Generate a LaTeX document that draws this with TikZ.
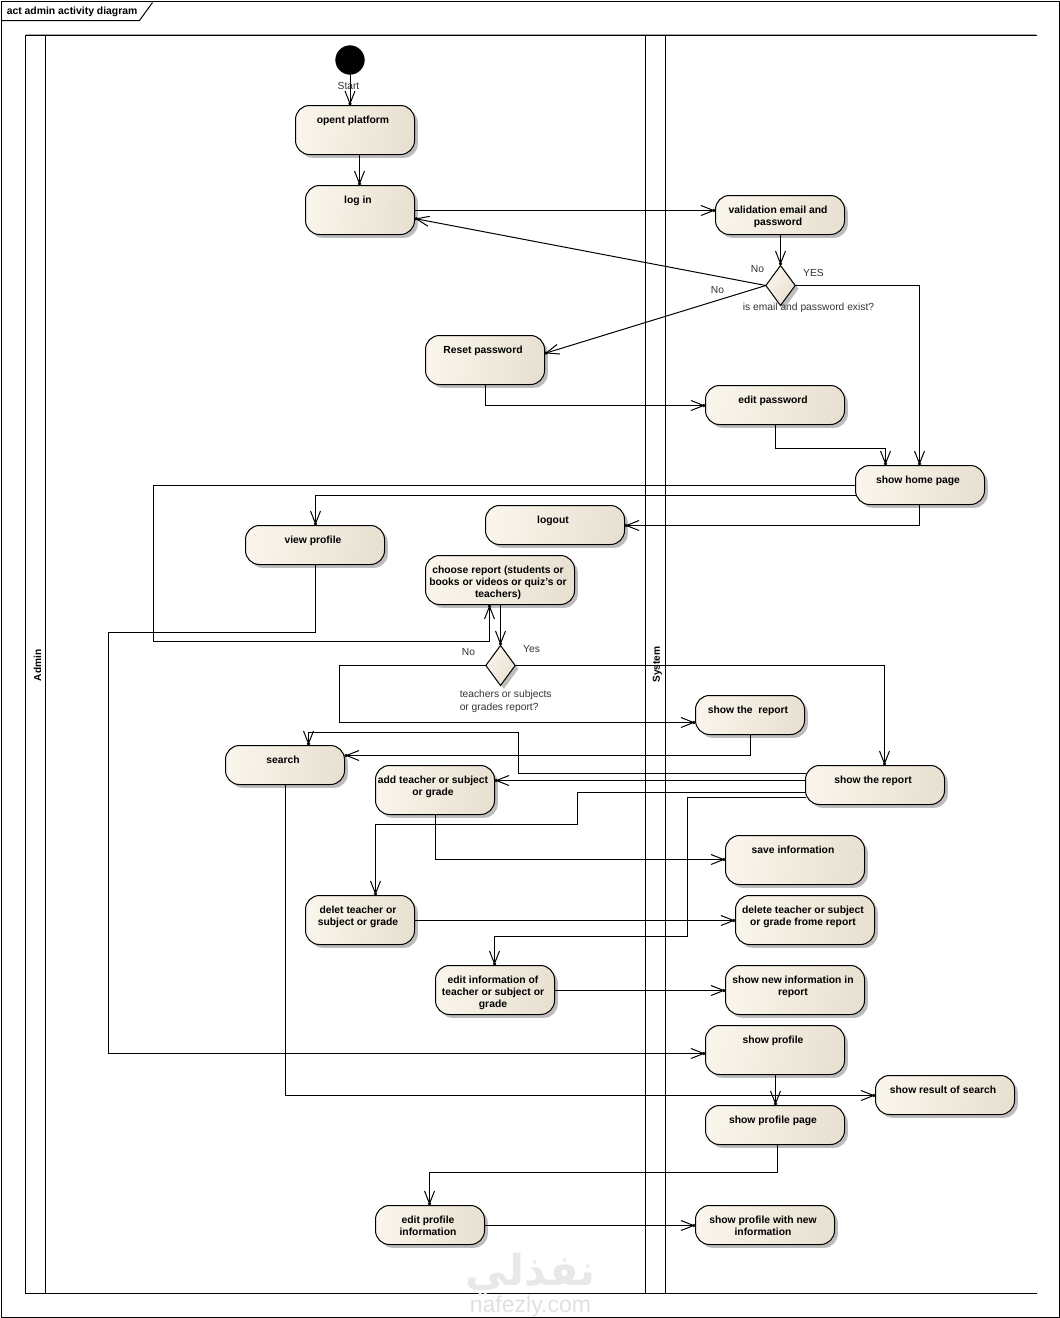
\documentclass[tikz,border=0pt]{standalone}
\usepackage{fontspec}
\setmainfont{Liberation Sans}
\newfontfamily\arabicfont[Script=Arabic]{DejaVu Sans}
\TeXXeTstate=1
\usetikzlibrary{arrows.meta,shapes.geometric,shadows}
\definecolor{boxL}{HTML}{FAF5EB}
\definecolor{boxR}{HTML}{E8E1D2}
\definecolor{shad}{HTML}{BDBDBD}
\tikzset{
  x=0.75pt,y=-0.75pt,
  conn/.style={draw=black,line width=0.75pt,-{Straight Barb[length=9.5pt,width=7.5pt,sep=-2pt]Circle[length=2.4pt]}},
  lane/.style={draw=black,line width=0.75pt},
  actbox/.style={draw=black,line width=0.75pt,rounded corners=10.5pt,inner sep=0pt,outer sep=0pt,
    left color=boxL,right color=boxR,shading angle=80,
    general shadow={shadow xshift=2.5pt,shadow yshift=-2.5pt,fill=shad}},
  decis/.style={diamond,draw=black,line width=0.75pt,inner sep=0pt,outer sep=0pt,aspect=0.75,minimum width=22pt,minimum height=30pt,
    left color=boxL,right color=boxR,shading angle=60,
    general shadow={shadow xshift=2.5pt,shadow yshift=-2.5pt,fill=shad}},
  note/.style={inner sep=0pt,font=\fontsize{7.7pt}{9.7pt}\selectfont,text=black!80},
  wm/.style={inner sep=0pt,text=black!9},
}
% box: name, x1, y1, x2, y2, text
\newcommand{\actnode}[6]{%
  \pgfmathsetlengthmacro{\bw}{(#4-#2-1)*0.75pt}%
  \pgfmathsetlengthmacro{\bh}{(#5-#3-1)*0.75pt}%
  \node[actbox] (#1) at ({(#2+#4-1)/2},{(#3+#5-1)/2})
   {\parbox[c][\bh][t]{\bw}{\centering\rightskip=3pt plus 1fil\fontsize{7.75pt}{9pt}\bfseries\selectfont\vspace*{8.2pt}#6\par}};}
\begin{document}
\begin{tikzpicture}
\useasboundingbox (-0.5,-0.5) rectangle (1059.5,1317.5);
% frame
\node[draw=black,line width=0.75pt,inner sep=0pt,minimum width=793.5pt,minimum height=987pt] (frame) at (530,659) {};
\node[anchor=west,inner sep=0pt,font=\fontsize{7.8pt}{9pt}\bfseries\selectfont] (frametitle) at (6,11) {act admin activity diagram};
\draw[line width=0.75pt] (1,20) -- (139,20) -- (152,2);
% pools
\draw[line width=0.75pt,draw=black!35] (25,34) -- (1035,34);
\draw[lane] (1036,35) -- (25,35) -- (25,1293) -- (1036,1293);
\draw[lane] (45,35) -- (45,1293);
\draw[lane] (645,35) -- (645,1293);
\draw[lane] (665,35) -- (665,1293);
\node[rotate=90,inner sep=0pt,font=\fontsize{7.6pt}{9pt}\bfseries\selectfont] (adminlbl) at (37,665) {Admin};
\node[rotate=90,inner sep=0pt,font=\fontsize{7.6pt}{9pt}\bfseries\selectfont] (systemlbl) at (657,664) {System};
% watermark
\node[wm,font=\arabicfont\fontsize{32pt}{32pt}\bfseries\selectfont] (wmar) at (530,1274) {\beginR نفذلي\endR};
\node[wm,font=\fontsize{17.3pt}{17.3pt}\selectfont,text=black!12] (wmen) at (530,1306) {nafezly.com};
% start
\node[circle,fill=black,draw=black,inner sep=0pt,minimum size=21.5pt] (start) at (349.5,59.5) {};
% activities
\actnode{open}{295}{105}{415}{155}{opent platform}
\actnode{login}{305}{185}{415}{235}{log in}
\actnode{valid}{715}{195}{845}{235}{validation email and\\password}
\actnode{reset}{425}{335}{545}{385}{Reset password}
\actnode{editpw}{705}{385}{845}{425}{edit password}
\actnode{home}{855}{465}{985}{505}{show home page}
\actnode{logout}{485}{505}{625}{545}{logout}
\actnode{viewprof}{245}{525}{385}{565}{view profile}
\actnode{choose}{425}{555}{575}{605}{choose report (students or\\books or videos or quiz's or\\teachers)}
\actnode{repa}{695}{695}{805}{735}{show the\ \ report}
\actnode{search}{225}{745}{345}{785}{search}
\actnode{addt}{375}{765}{495}{815}{add teacher or subject\\or grade}
\actnode{repb}{805}{765}{945}{805}{show the report}
\actnode{save}{725}{835}{865}{885}{save information}
\actnode{delet}{305}{895}{415}{945}{delet teacher or\\subject or grade}
\actnode{delrep}{735}{895}{875}{945}{delete teacher or subject\\or grade frome report}
\actnode{editinfo}{435}{965}{555}{1015}{edit information of\\teacher or subject or\\grade}
\actnode{newinfo}{725}{965}{865}{1015}{show new information in\\report}
\actnode{showprof}{705}{1025}{845}{1075}{show profile}
\actnode{result}{875}{1075}{1015}{1115}{show result of search}
\actnode{profpage}{705}{1105}{845}{1145}{show profile page}
\actnode{editprof}{375}{1205}{485}{1245}{edit profile\\information}
\actnode{withnew}{695}{1205}{835}{1245}{show profile with new\\information}
% decisions
\node[decis] (da) at (780,285) {};
\node[decis] (db) at (500,665) {};
% labels
\node[note] (lstart) at (348,85) {Start};
\node[note] (lno1) at (757,269) {No};
\node[note] (lyes1) at (813,272) {YES};
\node[note] (lno2) at (717,290) {No};
\node[note] (lq1) at (808,307) {is email and password exist?};
\node[note] (lno3) at (468,652) {No};
\node[note] (lyes2) at (531,649) {Yes};
\node[note,anchor=north west,align=left] (lq2) at (459,689) {teachers or subjects\\or grades report?};
% connectors
\draw[conn] (start) -- (open.north -| start);
\draw[conn] (open.south -| 359,0) -- (login.north -| 359,0);
\draw[conn] (login.east |- 0,210) -- (valid.west |- 0,210);
\draw[conn] (valid.south -| da) -- (da.north);
\draw[conn] (da.west) -- (login.east |- 0,218);
\draw[conn] (da.west) -- (reset.east |- 0,353);
\draw[conn] (da.east) -- (919,285) -- (home.north -| 919,0);
\draw[conn] (reset.south -| 485,0) -- (485,405) -- (editpw.west |- 0,405);
\draw[conn] (editpw.south -| 775,0) -- (775,448) -- (885,448) -- (home.north -| 885,0);
\draw[conn] (home.west |- 0,495) -- (315,495) -- (viewprof.north -| 315,0);
\draw[conn] (home.west |- 0,485) -- (153,485) -- (153,641) -- (489,641) -- (choose.south -| 489,0);
\draw[conn] (home.south -| 919,0) -- (919,525) -- (logout.east |- 0,525);
\draw[conn] (viewprof.south -| 315,0) -- (315,632) -- (108,632) -- (108,1053) -- (showprof.west |- 0,1053);
\draw[conn] (choose.south -| 500,0) -- (db.north);
\draw[conn] (db.west) -- (339,665) -- (339,722) -- (repa.west |- 0,722);
\draw[conn] (db.east) -- (884,665) -- (repb.north -| 884,0);
\draw[conn] (repa.south -| 750,0) -- (750,755) -- (search.east |- 0,755);
\draw[conn] (repb.west |- 0,773) -- (518,773) -- (518,732) -- (308,732) -- (search.north -| 308,0);
\draw[conn] (repb.west |- 0,780) -- (addt.east |- 0,780);
\draw[conn] (repb.west |- 0,792) -- (577,792) -- (577,824) -- (375,824) -- (delet.north -| 375,0);
\draw[conn] (repb.west |- 0,797) -- (687,797) -- (687,936) -- (494,936) -- (editinfo.north -| 494,0);
\draw[conn] (addt.south -| 435,0) -- (435,859) -- (save.west |- 0,859);
\draw[conn] (delet.east |- 0,920) -- (delrep.west |- 0,920);
\draw[conn] (editinfo.east |- 0,990) -- (newinfo.west |- 0,990);
\draw[conn] (showprof.south -| 775,0) -- (profpage.north -| 775,0);
\draw[conn] (search.south -| 285,0) -- (285,1095) -- (result.west |- 0,1095);
\draw[conn] (profpage.south -| 777,0) -- (777,1172) -- (429,1172) -- (editprof.north -| 429,0);
\draw[conn] (editprof.east |- 0,1225) -- (withnew.west |- 0,1225);
\end{tikzpicture}
\end{document}
